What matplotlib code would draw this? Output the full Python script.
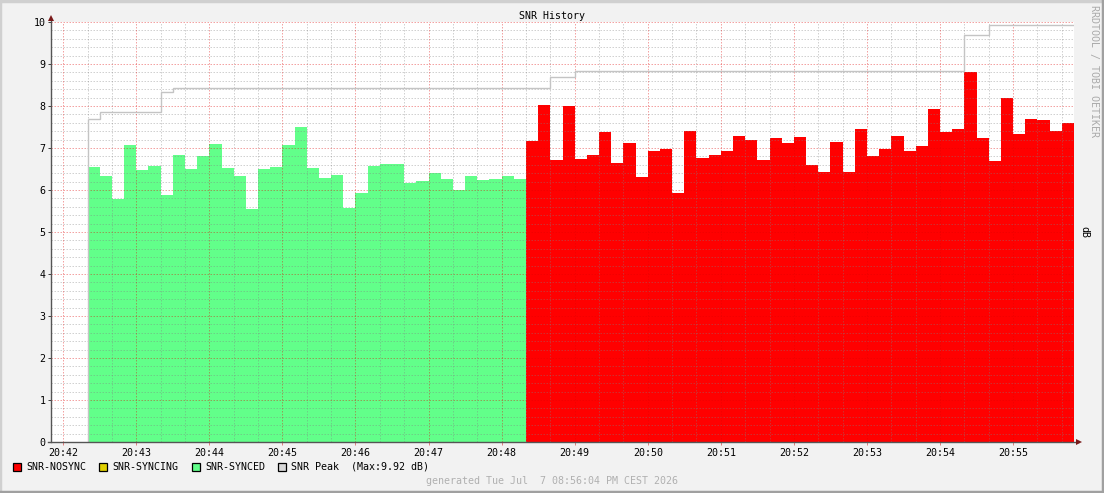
import matplotlib
matplotlib.use('Agg')
import matplotlib.pyplot as plt
from matplotlib.lines import Line2D
from matplotlib.patches import Rectangle
import numpy as np

# ── Data (10 s steps) ─────────────────────────────────────────────────────
STEP = 10                      # seconds per sample
GREEN_START = 20               # seconds after 20:42:00
RED_START = 380

synced = [6.55, 6.33, 5.79, 7.07, 6.48, 6.57, 5.88, 6.83, 6.50, 6.81,
          7.10, 6.52, 6.33, 5.55, 6.50, 6.55, 7.07, 7.50, 6.52, 6.29,
          6.36, 5.57, 5.93, 6.58, 6.63, 6.62, 6.17, 6.21, 6.40, 6.26,
          6.00, 6.33, 6.24, 6.26, 6.33, 6.27]

nosync = [7.17, 8.02, 6.72, 8.00, 6.74, 6.83, 7.38, 6.64, 7.12, 6.31,
          6.93, 6.98, 5.93, 7.40, 6.76, 6.83, 6.93, 7.29, 7.19, 6.71,
          7.24, 7.12, 7.26, 6.60, 6.43, 7.14, 6.43, 7.45, 6.81, 6.98,
          7.29, 6.93, 7.05, 7.93, 7.38, 7.45, 8.81, 7.24, 6.69, 8.19,
          7.33, 7.69, 7.67, 7.40, 7.60]

peak = ([7.69] + [7.86] * 5 + [8.33] + [8.43] * 29 +
        [8.43] * 2 + [8.69] * 2 + [8.84] * 32 + [9.69] * 2 + [9.92] * 7)

minute_labels = ['20:42', '20:43', '20:44', '20:45', '20:46', '20:47', '20:48',
                 '20:49', '20:50', '20:51', '20:52', '20:53', '20:54', '20:55']

# ── Theme ─────────────────────────────────────────────────────────────────
W, H = 1104, 493
BACK = '#f2f2f2'
RED = '#ff0000'
GREEN = '#62ff8a'
YELLOW = '#e0d000'
PEAK = '#c4c4c4'
ARROW = '#7a1a1a'
FONT = 'DejaVu Sans Mono'
FS = 7.2
DOTS = (0, (1.5, 1.5))

plt.rcParams['font.family'] = FONT


def fx(x):
    return x / W


def fy(y):
    return 1 - y / H


fig = plt.figure(figsize=(W / 100, H / 100), dpi=100, facecolor=BACK)
ax = fig.add_axes([fx(51), fy(442), (1074 - 51) / W, (442 - 22) / H])
ax.set_facecolor('white')
for s in ax.spines.values():
    s.set_visible(False)

ax.set_xlim(-10, 830)
ax.set_ylim(0, 10)

# areas
g_edges = GREEN_START + STEP * np.arange(len(synced) + 1)
r_edges = RED_START + STEP * np.arange(len(nosync) + 1)
ax.stairs(synced, g_edges, fill=True, color=GREEN, zorder=1)
ax.stairs(nosync, r_edges, fill=True, color=RED, zorder=1)

# grid on top of the areas, rrdtool style
for x in np.arange(0, 830, 20):
    if x % 60:
        ax.axvline(x, color='#808080', alpha=0.36, lw=0.72, ls=DOTS, zorder=3)
for y in np.arange(0.2, 10.01, 0.2):
    if abs(y - round(y)) > 1e-6:
        ax.axhline(y, color='#808080', alpha=0.36, lw=0.72, ls=DOTS, zorder=3)
for x in np.arange(0, 830, 60):
    ax.axvline(x, color='#e00000', alpha=0.36, lw=0.72, ls=DOTS, zorder=3)
for y in range(1, 11):
    ax.axhline(y, color='#e00000', alpha=0.36, lw=0.72, ls=DOTS, zorder=3)

# peak line
p_edges = GREEN_START + STEP * np.arange(len(peak) + 1)
ax.stairs(peak, p_edges, baseline=None, color=PEAK, lw=1.0, zorder=4)
ax.vlines(p_edges[0], 0, peak[0], color=PEAK, lw=1.0, zorder=4)

# ticks
ax.set_xticks(60 * np.arange(len(minute_labels)), minute_labels)
ax.set_yticks(range(0, 11))
ax.tick_params(axis='x', length=2.5, width=0.72, color='#e08080',
               pad=1.5, labelsize=FS)
ax.tick_params(axis='y', length=2.5, width=0.72, color='#404040',
               pad=1.5, labelsize=FS)

# axis lines with arrows
fig.add_artist(Line2D([fx(51), fx(51)], [fy(442), fy(19)], color='#555555', lw=1.0))
fig.add_artist(Line2D([fx(48), fx(1078)], [fy(442), fy(442)], color='#555555', lw=1.0))
fig.add_artist(Line2D([fx(51)], [fy(18)], marker='^', ms=4.5, color=ARROW, mew=0))
fig.add_artist(Line2D([fx(1079)], [fy(442)], marker='>', ms=4.5, color=ARROW, mew=0))

# texts
fig.text(fx(552), fy(16), 'SNR History', ha='center', va='center', fontsize=FS)
fig.text(fx(1094), fy(5), 'RRDTOOL / TOBI OETIKER', rotation=270, ha='center',
         va='top', fontsize=FS, color='#aaaaaa')
fig.text(fx(1084), fy(232), 'dB', rotation=270, ha='center', va='center', fontsize=FS)

legend = [(13, RED, 'SNR-NOSYNC'), (99, YELLOW, 'SNR-SYNCING'),
          (192, GREEN, 'SNR-SYNCED'), (278, '#d8d8d8', 'SNR Peak  (Max:9.92 dB)')]
for x0, col, label in legend:
    fig.add_artist(Rectangle((fx(x0), fy(471)), 8 / W, 8 / H, facecolor=col,
                             edgecolor='black', lw=0.9, transform=fig.transFigure))
    fig.text(fx(x0 + 13), fy(466.5), label, ha='left', va='center', fontsize=FS)

fig.text(fx(552), fy(481), 'generated Tue Jul  7 08:56:04 PM CEST 2026',
         ha='center', va='center', fontsize=FS, color='#b0b0b0')

# frame
fig.add_artist(Line2D([0, 0, 1], [0, 1 - 1 / H, 1 - 1 / H], color='#d0d0d0', lw=2.5))
fig.add_artist(Line2D([0, 1 - 1 / W, 1 - 1 / W], [1 / H, 1 / H, 1], color='#a0a0a0', lw=2.5))

fig.savefig('out.png', dpi=100, facecolor=BACK)
